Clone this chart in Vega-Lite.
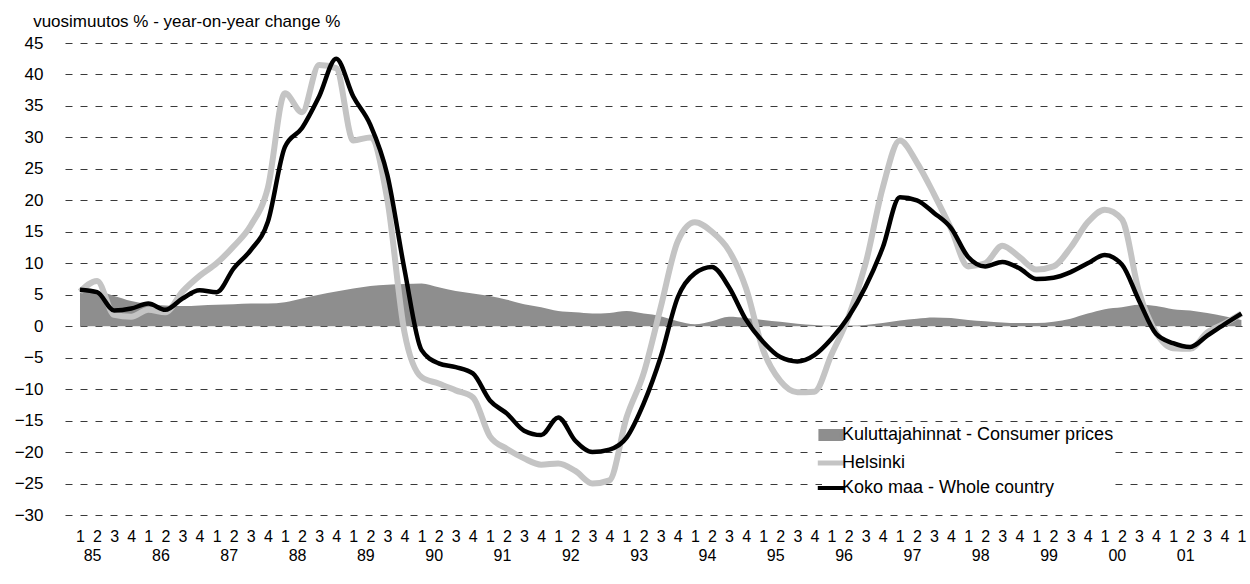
{
  "$schema": "https://vega.github.io/schema/vega-lite/v6.json",
  "autosize": {"type": "none"},
  "padding": {"left": 65, "top": 43, "right": 0, "bottom": 69},
  "width": 1185,
  "height": 472,
  "background": "white",
  "config": {
    "view": {"stroke": null},
    "font": "Liberation Sans"
  },
  "title": {
    "text": "vuosimuutos % - year-on-year change %",
    "anchor": "start",
    "dx": 19,
    "fontSize": 17,
    "font": "Liberation Sans",
    "fontWeight": "normal",
    "color": "#000000",
    "offset": 3
  },
  "data": {
    "values": [
      {"q": "85-1", "c": 5.3, "h": 5.5, "w": 5.8},
      {"q": "85-2", "c": 5.5, "h": 7.2, "w": 5.4},
      {"q": "85-3", "c": 4.8, "h": 1.8, "w": 2.5},
      {"q": "85-4", "c": 4.0, "h": 1.5, "w": 2.8},
      {"q": "86-1", "c": 3.5, "h": 2.6, "w": 3.6},
      {"q": "86-2", "c": 3.3, "h": 2.2, "w": 2.6},
      {"q": "86-3", "c": 3.2, "h": 5.5, "w": 4.4},
      {"q": "86-4", "c": 3.3, "h": 8.0, "w": 5.7},
      {"q": "87-1", "c": 3.4, "h": 10.0, "w": 5.4},
      {"q": "87-2", "c": 3.5, "h": 12.7, "w": 9.2},
      {"q": "87-3", "c": 3.6, "h": 16.0, "w": 12.1},
      {"q": "87-4", "c": 3.6, "h": 22.0, "w": 16.6},
      {"q": "88-1", "c": 3.8, "h": 37.0, "w": 28.5},
      {"q": "88-2", "c": 4.4, "h": 34.0, "w": 31.5},
      {"q": "88-3", "c": 5.0, "h": 41.5, "w": 36.5},
      {"q": "88-4", "c": 5.5, "h": 41.0, "w": 42.5},
      {"q": "89-1", "c": 6.0, "h": 29.5, "w": 36.5},
      {"q": "89-2", "c": 6.4, "h": 30.0, "w": 32.0},
      {"q": "89-3", "c": 6.6, "h": 20.0, "w": 24.0},
      {"q": "89-4", "c": 6.7, "h": -1.0, "w": 9.0},
      {"q": "90-1", "c": 6.8, "h": -8.1, "w": -3.8},
      {"q": "90-2", "c": 6.2, "h": -9.1, "w": -5.9},
      {"q": "90-3", "c": 5.6, "h": -10.2, "w": -6.5},
      {"q": "90-4", "c": 5.2, "h": -11.3, "w": -7.5},
      {"q": "91-1", "c": 4.8, "h": -17.5, "w": -11.8},
      {"q": "91-2", "c": 4.2, "h": -19.5, "w": -13.9},
      {"q": "91-3", "c": 3.5, "h": -21.0, "w": -16.6},
      {"q": "91-4", "c": 3.0, "h": -22.0, "w": -17.3},
      {"q": "92-1", "c": 2.4, "h": -21.8, "w": -14.5},
      {"q": "92-2", "c": 2.2, "h": -23.0, "w": -18.2},
      {"q": "92-3", "c": 2.0, "h": -25.0, "w": -20.0},
      {"q": "92-4", "c": 2.1, "h": -24.5, "w": -19.6},
      {"q": "93-1", "c": 2.4, "h": -14.5, "w": -17.7},
      {"q": "93-2", "c": 2.0, "h": -7.5, "w": -12.3},
      {"q": "93-3", "c": 1.6, "h": 3.0, "w": -4.9},
      {"q": "93-4", "c": 0.8, "h": 13.5, "w": 4.6},
      {"q": "94-1", "c": 0.3, "h": 16.5, "w": 8.4},
      {"q": "94-2", "c": 0.8, "h": 15.0, "w": 9.4},
      {"q": "94-3", "c": 1.5, "h": 12.0, "w": 6.2},
      {"q": "94-4", "c": 1.3, "h": 6.0, "w": 1.0},
      {"q": "95-1", "c": 1.0, "h": -3.8, "w": -2.5},
      {"q": "95-2", "c": 0.7, "h": -8.7, "w": -4.9},
      {"q": "95-3", "c": 0.4, "h": -10.5, "w": -5.6},
      {"q": "95-4", "c": 0.2, "h": -10.4, "w": -4.6},
      {"q": "96-1", "c": 0.1, "h": -4.5, "w": -2.0},
      {"q": "96-2", "c": 0.1, "h": 1.5, "w": 1.5},
      {"q": "96-3", "c": 0.2, "h": 10.0, "w": 6.3},
      {"q": "96-4", "c": 0.5, "h": 22.0, "w": 12.5},
      {"q": "97-1", "c": 0.9, "h": 29.5, "w": 20.5},
      {"q": "97-2", "c": 1.2, "h": 26.0, "w": 20.0},
      {"q": "97-3", "c": 1.4, "h": 21.0, "w": 18.0},
      {"q": "97-4", "c": 1.3, "h": 15.5, "w": 15.6},
      {"q": "98-1", "c": 1.0, "h": 9.5, "w": 11.0},
      {"q": "98-2", "c": 0.8, "h": 10.0, "w": 9.5},
      {"q": "98-3", "c": 0.6, "h": 12.8, "w": 10.2},
      {"q": "98-4", "c": 0.5, "h": 11.0, "w": 9.2},
      {"q": "99-1", "c": 0.5, "h": 9.0, "w": 7.5},
      {"q": "99-2", "c": 0.7, "h": 9.5, "w": 7.7},
      {"q": "99-3", "c": 1.2, "h": 12.5, "w": 8.6},
      {"q": "99-4", "c": 2.0, "h": 16.5, "w": 10.0},
      {"q": "00-1", "c": 2.7, "h": 18.5, "w": 11.3},
      {"q": "00-2", "c": 3.0, "h": 17.0, "w": 9.8},
      {"q": "00-3", "c": 3.4, "h": 5.5, "w": 4.1},
      {"q": "00-4", "c": 3.2, "h": -1.0, "w": -1.2},
      {"q": "01-1", "c": 2.7, "h": -3.5, "w": -2.7},
      {"q": "01-2", "c": 2.5, "h": -3.6, "w": -3.3},
      {"q": "01-3", "c": 2.1, "h": -1.0, "w": -1.5},
      {"q": "01-4", "c": 1.6, "h": 0.4, "w": 0.3},
      {"q": "02-1", "c": 1.0, "h": 2.0, "w": 2.0}
    ]
  },
  "encoding": {
    "y": {
      "field": "v",
      "type": "quantitative",
      "stack": null,
      "scale": {"domain": [-30, 45], "nice": false, "zero": false},
      "axis": {
        "title": null,
        "values": [-30, -25, -20, -15, -10, -5, 0, 5, 10, 15, 20, 25, 30, 35, 40, 45],
        "grid": true,
        "gridDash": [7, 8],
        "gridColor": "#3a3a3a",
        "gridWidth": 1,
        "domain": false,
        "ticks": false,
        "labelPadding": 22,
        "labelFontSize": 17,
        "labelFont": "Liberation Sans",
        "labelColor": "#000000"
      }
    },
    "color": {
      "field": "s",
      "type": "nominal",
      "scale": {"domain": ["c", "h", "w"], "range": ["#8e8e8e", "#c4c4c4", "#000000"]},
      "legend": {
        "orient": "none",
        "legendX": 757,
        "legendY": 383,
        "title": null,
        "padding": 0,
        "fillColor": "white",
        "rowPadding": 6,
        "symbolType": "stroke",
        "symbolSize": 700,
        "symbolStrokeWidth": 4,
        "labelFontSize": 18,
        "labelFont": "Liberation Sans",
        "labelColor": "#000000",
        "labelOffset": 2,
        "labelLimit": 0,
        "labelExpr": "datum.value == 'c' ? 'Kuluttajahinnat - Consumer prices' : datum.value == 'h' ? 'Helsinki' : 'Koko maa - Whole country'",
        "encode": {
          "symbols": {
            "update": {
              "shape": {"signal": "datum.value == 'c' ? 'M-0.8,-0.3H0.8V0.3H-0.8Z' : 'stroke'"},
              "fill": {"signal": "datum.value == 'c' ? '#8e8e8e' : 'transparent'"},
              "stroke": {"signal": "datum.value == 'c' ? 'transparent' : datum.value == 'h' ? '#c4c4c4' : '#000000'"},
              "strokeWidth": {"signal": "datum.value == 'h' ? 5 : 4"},
              "opacity": {"value": 1}
            }
          }
        }
      }
    }
  },
  "layer": [
    {
      "transform": [{"fold": ["c"], "as": ["s", "v"]}],
      "mark": {"type": "area", "interpolate": "monotone", "opacity": 1},
      "encoding": {
        "x": {
          "field": "q",
          "type": "ordinal",
          "sort": null,
          "scale": {"type": "point", "padding": 0.69, "align": 0.636},
          "axis": {
            "orient": "bottom",
            "title": null,
            "domain": false,
            "ticks": false,
            "grid": false,
            "labelAngle": 0,
            "labelOverlap": false,
            "labelPadding": 32,
            "labelOffset": -5,
            "labelFontSize": 16,
            "labelFont": "Liberation Sans",
            "labelColor": "#000000",
            "labelExpr": "substring(datum.value, 3) == '2' ? substring(datum.value, 0, 2) : ''"
          }
        }
      }
    },
    {
      "transform": [{"fold": ["h"], "as": ["s", "v"]}],
      "mark": {"type": "line", "interpolate": "monotone", "strokeWidth": 6},
      "encoding": {
        "x": {"field": "q", "type": "ordinal", "sort": null, "axis": null}
      }
    },
    {
      "transform": [{"fold": ["w"], "as": ["s", "v"]}],
      "mark": {"type": "line", "interpolate": "monotone", "strokeWidth": 4.5},
      "encoding": {
        "x": {
          "field": "q",
          "type": "ordinal",
          "sort": null,
          "axis": {
            "orient": "bottom",
            "title": null,
            "domain": false,
            "ticks": false,
            "grid": false,
            "labelAngle": 0,
            "labelOverlap": false,
            "labelPadding": 13,
            "labelFontSize": 16,
            "labelFont": "Liberation Sans",
            "labelColor": "#000000",
            "labelExpr": "substring(datum.value, 3)"
          }
        }
      }
    }
  ],
  "resolve": {"axis": {"x": "independent"}}
}
